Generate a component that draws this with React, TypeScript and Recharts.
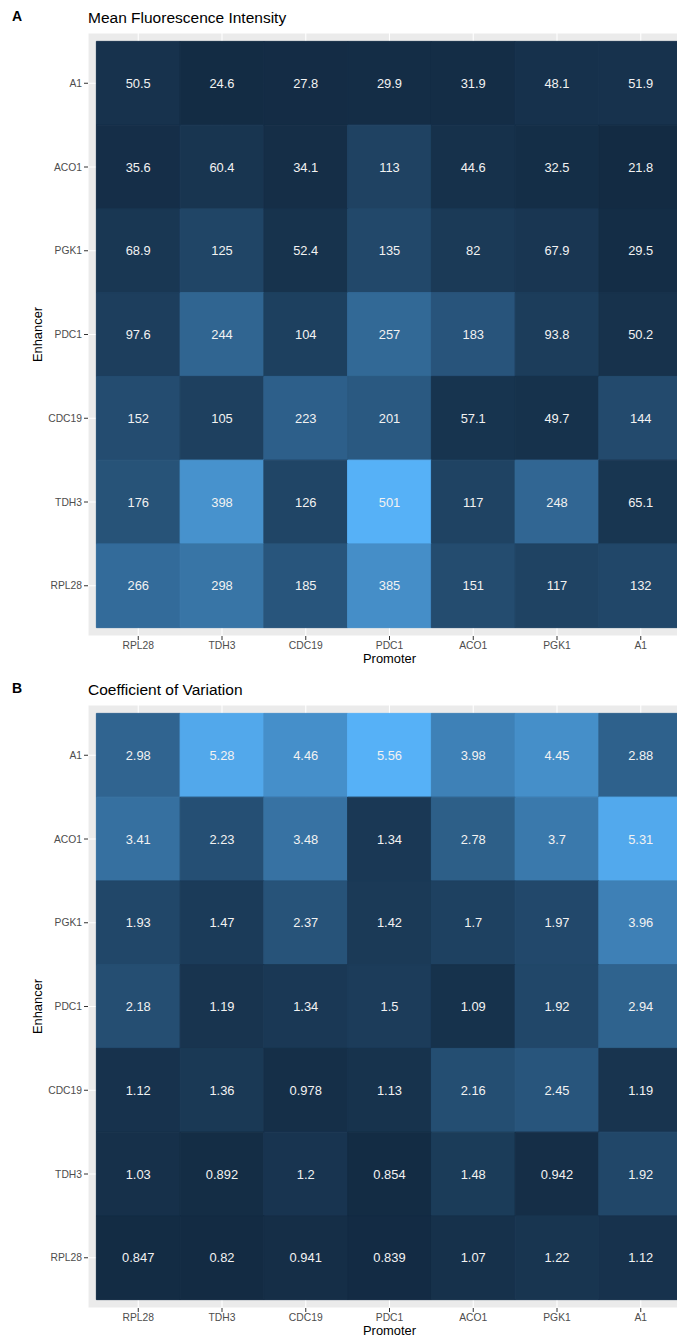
import {
  ScatterChart,
  Scatter,
  XAxis,
  YAxis,
  CartesianGrid,
  ReferenceArea,
} from 'recharts';

// Axis categories (x = promoter, y = enhancer, top row first)
const promoters = ['RPL28', 'TDH3', 'CDC19', 'PDC1', 'ACO1', 'PGK1', 'A1'];
const enhancers = ['A1', 'ACO1', 'PGK1', 'PDC1', 'CDC19', 'TDH3', 'RPL28'];

// Mean fluorescence intensity, one array per enhancer row
const mfiA1 = [50.5, 24.6, 27.8, 29.9, 31.9, 48.1, 51.9];
const mfiACO1 = [35.6, 60.4, 34.1, 113, 44.6, 32.5, 21.8];
const mfiPGK1 = [68.9, 125, 52.4, 135, 82, 67.9, 29.5];
const mfiPDC1 = [97.6, 244, 104, 257, 183, 93.8, 50.2];
const mfiCDC19 = [152, 105, 223, 201, 57.1, 49.7, 144];
const mfiTDH3 = [176, 398, 126, 501, 117, 248, 65.1];
const mfiRPL28 = [266, 298, 185, 385, 151, 117, 132];

// Coefficient of variation, one array per enhancer row
const cvA1 = [2.98, 5.28, 4.46, 5.56, 3.98, 4.45, 2.88];
const cvACO1 = [3.41, 2.23, 3.48, 1.34, 2.78, 3.7, 5.31];
const cvPGK1 = [1.93, 1.47, 2.37, 1.42, 1.7, 1.97, 3.96];
const cvPDC1 = [2.18, 1.19, 1.34, 1.5, 1.09, 1.92, 2.94];
const cvCDC19 = [1.12, 1.36, 0.978, 1.13, 2.16, 2.45, 1.19];
const cvTDH3 = [1.03, 0.892, 1.2, 0.854, 1.48, 0.942, 1.92];
const cvRPL28 = [0.847, 0.82, 0.941, 0.839, 1.07, 1.22, 1.12];

const mfiRows = [mfiA1, mfiACO1, mfiPGK1, mfiPDC1, mfiCDC19, mfiTDH3, mfiRPL28];
const cvRows = [cvA1, cvACO1, cvPGK1, cvPDC1, cvCDC19, cvTDH3, cvRPL28];

const LOW = '#132B43';
const HIGH = '#56B1F7';
const FONT = '"Liberation Sans", Arial, sans-serif';

// --- Lab colour ramp (same space as ggplot's default gradient) ---
const toLin = (c: number) => {
  const v = c / 255;
  return v <= 0.04045 ? v / 12.92 : Math.pow((v + 0.055) / 1.055, 2.4);
};
const fromLin = (c: number) => {
  const v = c <= 0.0031308 ? 12.92 * c : 1.055 * Math.pow(c, 1 / 2.4) - 0.055;
  return Math.round(Math.min(1, Math.max(0, v)) * 255);
};
const D = 6 / 29;
const f = (t: number) => (t > D * D * D ? Math.cbrt(t) : t / (3 * D * D) + 4 / 29);
const finv = (t: number) => (t > D ? t * t * t : 3 * D * D * (t - 4 / 29));

function hexToLab(hex: string) {
  const r = toLin(parseInt(hex.slice(1, 3), 16));
  const g = toLin(parseInt(hex.slice(3, 5), 16));
  const b = toLin(parseInt(hex.slice(5, 7), 16));
  const X = (0.4124 * r + 0.3576 * g + 0.1805 * b) / 0.95047;
  const Y = 0.2126 * r + 0.7152 * g + 0.0722 * b;
  const Z = (0.0193 * r + 0.1192 * g + 0.9505 * b) / 1.08883;
  const fx = f(X), fy = f(Y), fz = f(Z);
  return [116 * fy - 16, 500 * (fx - fy), 200 * (fy - fz)];
}

function labToHex([L, a, bb]: number[]) {
  const fy = (L + 16) / 116;
  const X = finv(fy + a / 500) * 0.95047;
  const Y = finv(fy);
  const Z = finv(fy - bb / 200) * 1.08883;
  const r = 3.2406 * X - 1.5372 * Y - 0.4986 * Z;
  const g = -0.9689 * X + 1.8758 * Y + 0.0415 * Z;
  const b = 0.0557 * X - 0.204 * Y + 1.057 * Z;
  const h = (n: number) => fromLin(n).toString(16).padStart(2, '0');
  return '#' + h(r) + h(g) + h(b);
}

const lowLab = hexToLab(LOW);
const highLab = hexToLab(HIGH);
const ramp = (t: number) => labToHex(lowLab.map((v, i) => v + (highLab[i] - v) * t));

interface Cell {
  x: number;
  y: number;
  value: number;
  color: string;
}

function buildCells(rows: number[][]): Cell[] {
  const all = rows.flat();
  const min = Math.min(...all);
  const max = Math.max(...all);
  return rows.flatMap((row, y) =>
    row.map((value, x) => ({ x, y, value, color: ramp((value - min) / (max - min)) }))
  );
}

const tickStyle = { fill: '#4D4D4D', fontSize: 10.3, fontFamily: FONT };

// cell text drawn at each point's centre
const CellLabel = (props: any) => {
  const { cx, cy, payload } = props;
  return (
    <text
      x={cx}
      y={cy}
      textAnchor="middle"
      dominantBaseline="central"
      fill="#F2F2F2"
      fontSize={12.9}
      fontFamily={FONT}
    >
      {String(payload.value)}
    </text>
  );
};

function Heatmap({ rows }: { rows: number[][] }) {
  const cells = buildCells(rows);
  return (
    <ScatterChart width={700} height={672} margin={{ top: 33, right: 9, bottom: 0, left: 0 }}>
      <CartesianGrid fill="#EBEBEB" stroke="#FFFFFF" strokeWidth={1.1} />
      <XAxis
        type="number"
        dataKey="x"
        domain={[-0.6, 6.6]}
        ticks={[0, 1, 2, 3, 4, 5, 6]}
        interval={0}
        tickFormatter={(i: number) => promoters[i]}
        height={36}
        axisLine={false}
        tickSize={4}
        tickLine={{ stroke: '#333333' }}
        tick={tickStyle}
        label={{
          content: ({ viewBox }: any) => (
            <text
              x={viewBox.x + viewBox.width / 2}
              y={viewBox.y + 27}
              textAnchor="middle"
              fill="#000000"
              fontSize={12.9}
              fontFamily={FONT}
            >
              Promoter
            </text>
          ),
        }}
      />
      <YAxis
        type="number"
        dataKey="y"
        reversed
        domain={[-0.6, 6.6]}
        ticks={[0, 1, 2, 3, 4, 5, 6]}
        interval={0}
        tickFormatter={(i: number) => enhancers[i]}
        width={88}
        axisLine={false}
        tickSize={4}
        tickLine={{ stroke: '#333333' }}
        tick={tickStyle}
        label={{
          content: ({ viewBox }: any) => {
            const x = 42;
            const y = viewBox.y + viewBox.height / 2;
            return (
              <text
                x={x}
                y={y}
                transform={`rotate(-90 ${x} ${y})`}
                textAnchor="middle"
                fill="#000000"
                fontSize={12.9}
                fontFamily={FONT}
              >
                Enhancer
              </text>
            );
          },
        }}
      />
      {cells.map((c) => (
        <ReferenceArea
          key={`${c.x}-${c.y}`}
          x1={c.x - 0.5}
          x2={c.x + 0.5}
          y1={c.y - 0.5}
          y2={c.y + 0.5}
          fill={c.color}
          fillOpacity={1}
          stroke={c.color}
          strokeWidth={1}
        />
      ))}
      <Scatter data={cells} shape={CellLabel} isAnimationActive={false} />
    </ScatterChart>
  );
}

const letterStyle = {
  position: 'absolute' as const,
  left: 12,
  fontSize: 14,
  fontWeight: 700,
  lineHeight: 1,
  color: '#000',
};
const titleStyle = {
  position: 'absolute' as const,
  left: 88,
  fontSize: 15.5,
  lineHeight: 1,
  color: '#000',
};

export default function App() {
  return (
    <div
      style={{
        position: 'fixed',
        left: 0,
        top: 0,
        width: 677,
        height: 1339,
        overflow: 'hidden',
        background: '#FFFFFF',
        fontFamily: FONT,
      }}
    >
      <div style={{ position: 'absolute', left: 0, top: 0 }}>
        <Heatmap rows={mfiRows} />
      </div>
      <div style={{ position: 'absolute', left: 0, top: 672 }}>
        <Heatmap rows={cvRows} />
      </div>
      <div style={{ ...letterStyle, top: 9 }}>A</div>
      <div style={{ ...titleStyle, top: 10 }}>Mean Fluorescence Intensity</div>
      <div style={{ ...letterStyle, top: 681 }}>B</div>
      <div style={{ ...titleStyle, top: 682 }}>Coefficient of Variation</div>
    </div>
  );
}
